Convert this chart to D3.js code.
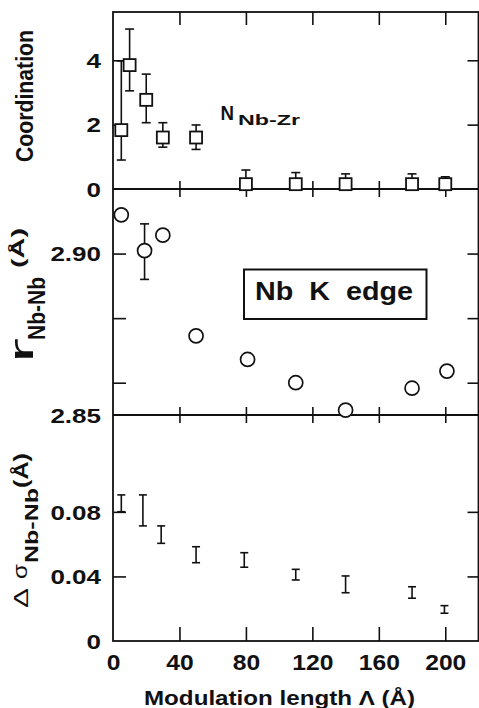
<!DOCTYPE html>
<html><head><meta charset="utf-8">
<script src="https://cdn.jsdelivr.net/npm/d3@7/dist/d3.min.js"></script>
<style>
html,body{margin:0;padding:0;background:#fff;}
svg{display:block;}
text{font-family:"Liberation Sans",Arial,Helvetica,sans-serif;font-weight:bold;fill:#111;}
</style></head>
<body>
<svg id="chart" width="479" height="708"></svg>
<script>
// ---- data ----
const xTickValues = [0, 40, 80, 120, 160, 200];
const xTickLabels = ["0", "40", "80", "120", "160", "200"];

// Panel 1: coordination N Nb-Zr (squares with error bars)
const coordX   = [5, 10, 20, 30, 50, 80, 110, 140, 180, 200];
const coordY   = [1.83, 3.85, 2.77, 1.60, 1.60, 0.15, 0.15, 0.15, 0.15, 0.15];
const coordLo  = [0.90, 3.05, 2.06, 1.30, 1.23, 0.15, 0.15, 0.15, 0.15, 0.15];
const coordHi  = [3.98, 4.97, 3.57, 2.06, 1.99, 0.59, 0.51, 0.47, 0.47, 0.38];
const coordTicks = [0, 2, 4];
const coordTickLabels = ["0", "2", "4"];

// Panel 2: r Nb-Nb (circles)
const rX  = [5, 19, 30, 50, 81, 110, 140, 180, 201];
const rY  = [2.912, 2.9009, 2.9057, 2.8745, 2.8672, 2.860, 2.8515, 2.8583, 2.8636];
const rErrX  = [19];
const rErrLo = [2.892];
const rErrHi = [2.9092];
const rTicks = [2.86, 2.88, 2.90];
const rTickLabelValues = [2.85, 2.90];
const rTickLabels = ["2.85", "2.90"];

// Panel 3: delta sigma Nb-Nb (error bars only)
const sX  = [5, 18, 29, 50, 79, 110, 140, 180, 199.5];
const sLo = [0.0801, 0.0713, 0.0605, 0.0485, 0.0457, 0.0378, 0.0299, 0.0265, 0.0172];
const sHi = [0.0905, 0.0905, 0.0713, 0.0584, 0.0547, 0.0444, 0.0403, 0.0336, 0.0219];
const sTicks = [0.04, 0.08];
const sTickLabelValues = [0, 0.04, 0.08];
const sTickLabels = ["0", "0.04", "0.08"];

// ---- layout ----
const X0 = 113, X1 = 478.5;
const YT = 12, YB1 = 189, YB2 = 415, YB3 = 641;
const INK = "#111";

const svg = d3.select("#chart");
const x = d3.scaleLinear().domain([0, 220]).range([X0, X1]);
const y1 = d3.scaleLinear().domain([0, 5.5]).range([YB1, YT]);
const y2 = d3.scaleLinear().domain([2.85, 2.92]).range([YB2, YB1]);
const y3 = d3.scaleLinear().domain([0, 0.14]).range([YB3, YB2]);

function stretch(sel, factor) {
  sel.each(function () {
    const len = this.getComputedTextLength();
    d3.select(this).attr("textLength", len * factor).attr("lengthAdjust", "spacingAndGlyphs");
  });
}
function axisClean(g) {
  g.select(".domain").remove();
  g.selectAll(".tick line").attr("stroke", INK).attr("stroke-width", 1.6);
}

// x ticks (no labels) on panel boundaries
const xt = xTickValues.filter(v => v > 0);
function xAxisAt(yPos, dir, size) {
  const ax = (dir === "down" ? d3.axisBottom(x) : d3.axisTop(x))
    .tickValues(xt).tickSize(size).tickFormat("");
  svg.append("g").attr("transform", `translate(0,${yPos})`).call(ax).call(axisClean);
}
xAxisAt(YT, "down", 13);
xAxisAt(YB1, "down", 8); xAxisAt(YB1, "up", 8);
xAxisAt(YB2, "down", 8); xAxisAt(YB2, "up", 8);
xAxisAt(YB3, "up", 14);

// x tick labels
const xl = svg.append("g").attr("transform", `translate(0,${YB3})`)
  .call(d3.axisBottom(x).tickValues(xTickValues).tickSize(0)
    .tickFormat((d, i) => xTickLabels[i]));
xl.select(".domain").remove();
xl.attr("font-family", null).attr("font-size", null);
xl.selectAll("text").attr("font-size", 22).attr("dy", null).attr("y", 29)
  .attr("fill", INK).call(stretch, 1.12);

// y ticks
function yAxis(scale, ticks, leftLen, rightLen) {
  svg.append("g").attr("transform", `translate(${X0},0)`)
    .call(d3.axisRight(scale).tickValues(ticks).tickSize(leftLen).tickFormat("")).call(axisClean);
  svg.append("g").attr("transform", `translate(${X1},0)`)
    .call(d3.axisLeft(scale).tickValues(ticks).tickSize(rightLen).tickFormat("")).call(axisClean);
}
yAxis(y1, coordTicks.filter(v => v > 0), 12, 11);
yAxis(y2, rTicks, 13, 11);
yAxis(y3, sTicks, 13, 11);

function yLabels(scale, vals, labels) {
  const g = svg.append("g").attr("transform", `translate(${X0},0)`)
    .call(d3.axisLeft(scale).tickValues(vals).tickSize(0).tickPadding(12)
      .tickFormat((d, i) => labels[i]));
  g.select(".domain").remove();
  g.attr("font-family", null).attr("font-size", null);
  g.selectAll("text").attr("font-size", 20).attr("dy", "0.36em").attr("fill", INK).call(stretch, 1.3);
}
yLabels(y1, coordTicks, coordTickLabels);
yLabels(y2, rTickLabelValues, rTickLabels);
yLabels(y3, sTickLabelValues, sTickLabels);

// frame
svg.append("rect").attr("x", X0).attr("y", YT).attr("width", X1 - X0).attr("height", YB3 - YT)
  .attr("fill", "none").attr("stroke", INK).attr("stroke-width", 1.8);
[YB1, YB2].forEach(v => svg.append("line").attr("x1", X0).attr("x2", X1).attr("y1", v).attr("y2", v)
  .attr("stroke", INK).attr("stroke-width", 1.8));

// error bar helper
function errBars(g, xs, lo, hi, yScale, cap) {
  xs.forEach((xv, i) => {
    const cx = x(xv), a = yScale(lo[i]), b = yScale(hi[i]);
    g.append("line").attr("x1", cx).attr("x2", cx).attr("y1", a).attr("y2", b);
    g.append("line").attr("x1", cx - cap).attr("x2", cx + cap).attr("y1", b).attr("y2", b);
    if (lo[i] > yScale.domain()[0] + 1e-9)
      g.append("line").attr("x1", cx - cap).attr("x2", cx + cap).attr("y1", a).attr("y2", a);
  });
}

// panel 1
const p1 = svg.append("g").attr("stroke", INK).attr("stroke-width", 1.6);
errBars(p1, coordX, coordLo, coordHi, y1, 4.5);
p1.selectAll("rect.sq").data(coordX).join("rect").attr("class", "sq")
  .attr("x", d => x(d) - 6).attr("y", (d, i) => y1(coordY[i]) - 6)
  .attr("width", 12).attr("height", 12).attr("fill", "#fff").attr("stroke-width", 1.8);

// panel 2
const p2 = svg.append("g").attr("stroke", INK).attr("stroke-width", 1.6);
errBars(p2, rErrX, rErrLo, rErrHi, y2, 4.5);
p2.selectAll("circle").data(rX).join("circle")
  .attr("cx", d => x(d)).attr("cy", (d, i) => y2(rY[i])).attr("r", 7)
  .attr("fill", "#fff").attr("stroke-width", 1.7);

// panel 3
const p3 = svg.append("g").attr("stroke", INK).attr("stroke-width", 1.6);
errBars(p3, sX, sLo, sHi, y3, 4);

// text helper
function txt(str, tx, ty, size, width, anchor, rot, weight) {
  const t = svg.append("text").attr("font-size", size).attr("text-anchor", anchor || "start")
    .attr("transform", `translate(${tx},${ty}) rotate(${rot || 0})`)
    .style("white-space", "pre").text(str);
  if (weight) t.style("font-weight", weight);
  if (width) t.attr("textLength", width).attr("lengthAdjust", "spacingAndGlyphs");
  return t;
}

// annotations
txt("N", 220.5, 120, 20, 13.5);
txt("Nb-Zr", 238, 125, 14.5, 62);
svg.append("rect").attr("x", 244).attr("y", 269.5).attr("width", 182.5).attr("height", 49.5)
  .attr("fill", "#fff").attr("stroke", INK).attr("stroke-width", 2);
txt("Nb  K  edge", 255, 300, 25.5, 158);

// axis titles
txt("Coordination", 33, 96, 23, 132, "middle", -90);
txt("r", 33, 363, 33, 25, "start", -90, "normal");
txt("Nb-Nb", 45, 340, 24, 63, "start", -90);
txt("(Å)", 24, 268, 18, 40, "start", -90);
txt("Δ", 28, 608, 20, 20, "start", -90, "normal");
txt("σ", 27, 579, 21, 15, "start", -90, "normal");
txt("Nb-Nb", 38, 563, 18, 75, "start", -90);
txt("(Å)", 28, 488, 21, 35, "start", -90);
txt("Modulation length Λ (Å)", 144, 705, 21, 271, "start");
</script>
</body></html>
